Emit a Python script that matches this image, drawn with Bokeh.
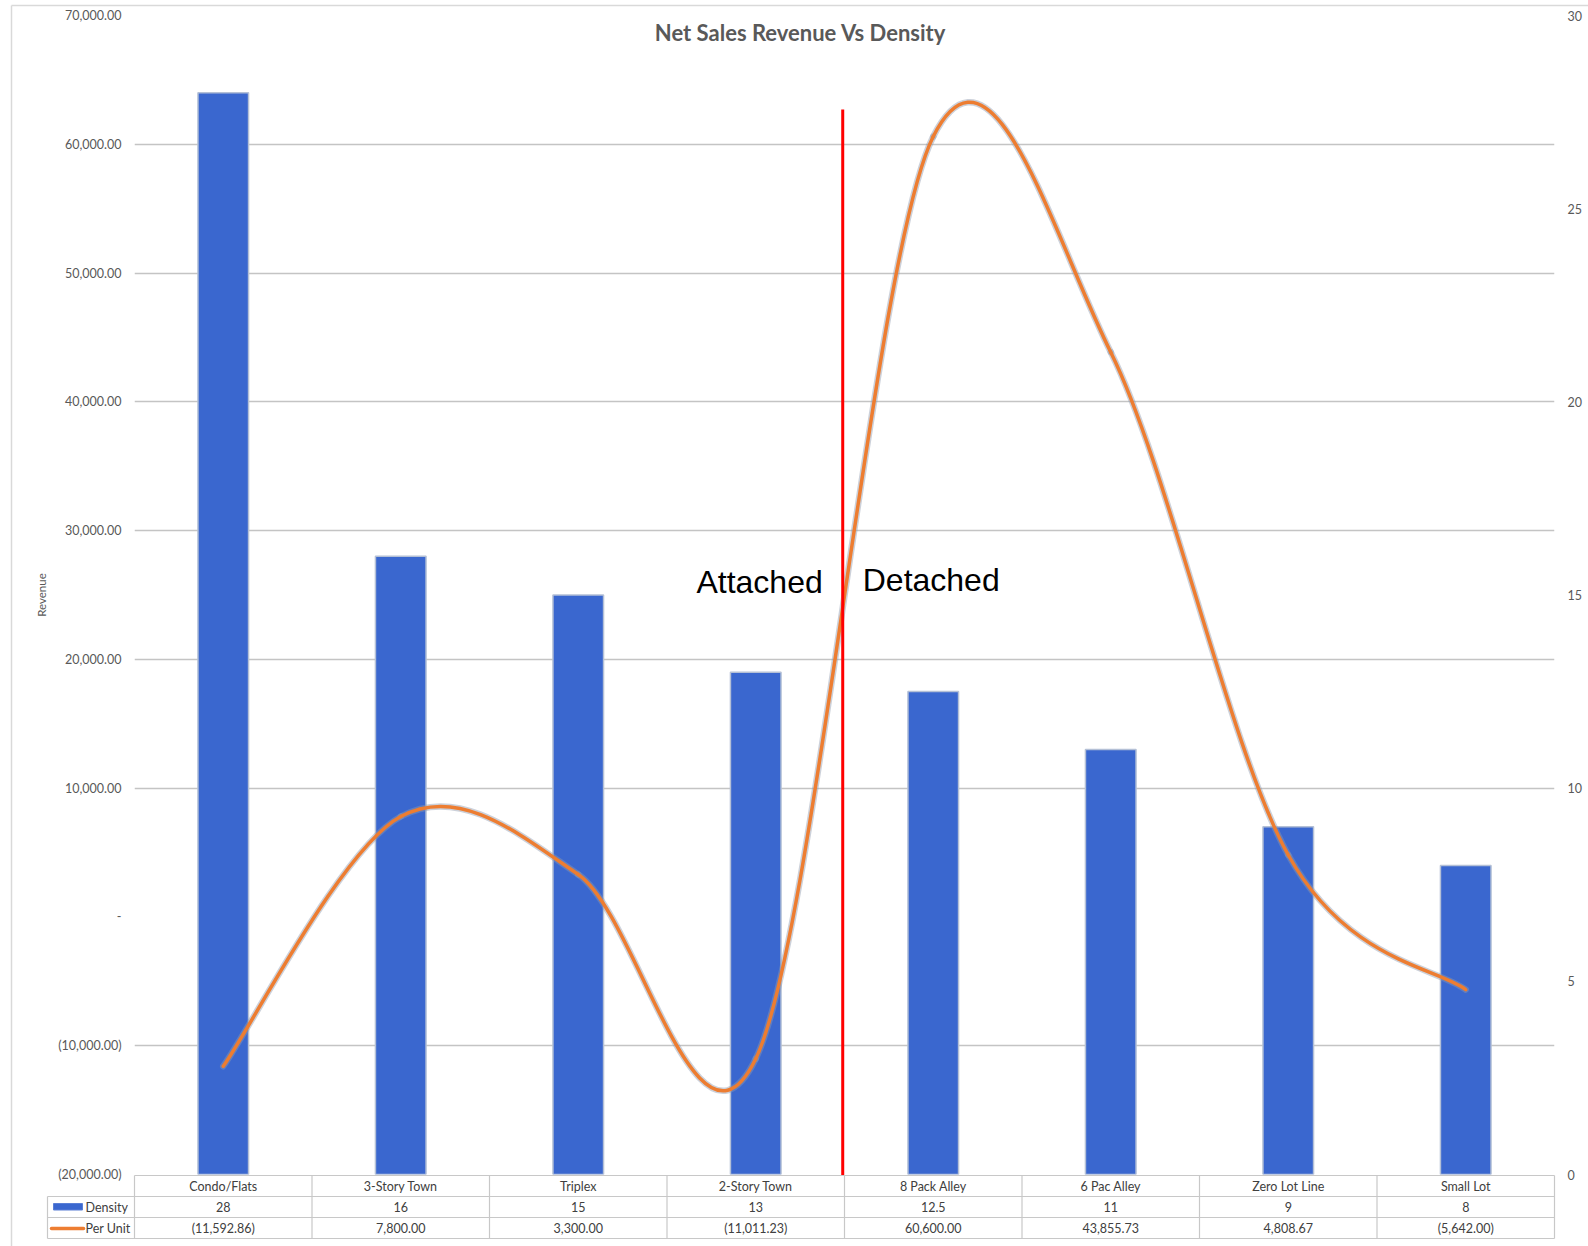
import numpy as np
from bokeh.plotting import figure
from bokeh.models import Range1d, LinearAxis, FixedTicker
from bokeh.core.properties import value
from bokeh.embed import file_html
from bokeh.resources import INLINE

# ---------------- data ----------------
categories = ["Condo/Flats", "3-Story Town", "Triplex", "2-Story Town",
              "8 Pack Alley", "6 Pac Alley", "Zero Lot Line", "Small Lot"]
density = [28, 16, 15, 13, 12.5, 11, 9, 8]
per_unit = [-11592.86, 7800.00, 3300.00, -11011.23, 60600.00, 43855.73, 4808.67, -5642.00]
revenue_ticks = [-20000, -10000, 0, 10000, 20000, 30000, 40000, 50000, 60000, 70000]
density_ticks = [0, 5, 10, 15, 20, 25, 30]
title_text = "Net Sales Revenue Vs Density"
divider_after = "2-Story Town"
left_label, right_label = "Attached", "Detached"
series_names = ["Density", "Per Unit"]


def acct(v):
    if v == 0:
        return "-"
    s = f"{abs(v):,.2f}"
    return f"({s})" if v < 0 else s


def dens_fmt(v):
    return f"{v:g}"


# ---------------- layout helpers (canvas pixels -> data) ----------------
W, H = 1588, 1246
FX0, FX1 = 134, 1554      # frame left/right (px)
FY0, FY1 = 1174, 15       # frame bottom/top (px)
XMIN, XMAX = -0.5, len(categories) - 0.5
YMIN, YMAX = revenue_ticks[0], revenue_ticks[-1]


def xd(px):
    return XMIN + (px - FX0) * (XMAX - XMIN) / (FX1 - FX0)


def yd(py):
    return YMIN + (FY0 - py) * (YMAX - YMIN) / (FY0 - FY1)


GRAY_TXT = "#595959"
FONT = "Lato"

p = figure(width=W, height=H,
           x_range=Range1d(XMIN, XMAX), y_range=Range1d(YMIN, YMAX),
           output_backend="svg", toolbar_location=None,
           x_axis_location=None, y_axis_location="left",
           min_border_left=FX0, min_border_right=W - FX1,
           min_border_top=FY1, min_border_bottom=H - FY0)
p.outline_line_color = None
p.background_fill_color = "white"
p.border_fill_color = "white"

p.extra_y_ranges = {"density": Range1d(density_ticks[0], density_ticks[-1])}
rax = LinearAxis(y_range_name="density", ticker=FixedTicker(ticks=density_ticks))
p.add_layout(rax, "right")

lax = p.left[0]
lax.ticker = FixedTicker(ticks=revenue_ticks)
lax.major_label_overrides = {t: acct(t) for t in revenue_ticks}
lax.axis_label = "Revenue"
lax.axis_label_text_font = FONT
lax.axis_label_text_font_size = "11.5px"
lax.axis_label_text_font_style = "normal"
lax.axis_label_text_color = GRAY_TXT
lax.axis_label_standoff = 7
lax.major_label_standoff = 13

for ax in (lax, rax):
    ax.axis_line_color = None
    ax.major_tick_line_color = None
    ax.minor_tick_line_color = None
    ax.major_tick_out = 0
    ax.major_tick_in = 0
    ax.major_label_text_font = FONT
    ax.major_label_text_font_size = "12.5px"
    ax.major_label_text_color = GRAY_TXT
rax.major_label_standoff = 13

p.xgrid.visible = False
p.ygrid.ticker = FixedTicker(ticks=[t for t in revenue_ticks if t not in (0, YMIN)])
p.ygrid.grid_line_color = "#C4C4C4"
p.ygrid.grid_line_width = 1.3

# ---------------- bars (density, right axis) ----------------
xs = list(range(len(categories)))
p.vbar(x=xs, top=density, bottom=0, width=0.285, y_range_name="density",
       fill_color="#3A67CF", line_color="#B4C0D6", line_width=1.5)

# ---------------- smoothed line (per unit, left axis) ----------------
P = np.column_stack([np.array(xs, dtype=float), np.array(per_unit, dtype=float)])
Pe = np.vstack([P[0], P, P[-1]])
n = len(P)
t = 1.0 / 6.0
c0 = P[:-1] + (Pe[2:n + 1] - Pe[0:n - 1]) * t
c1 = P[1:] - (Pe[3:n + 2] - Pe[1:n]) * t
bez = dict(x0=P[:-1, 0], y0=P[:-1, 1], x1=P[1:, 0], y1=P[1:, 1],
           cx0=c0[:, 0], cy0=c0[:, 1], cx1=c1[:, 0], cy1=c1[:, 1])
p.bezier(**bez, line_color="#8E98AC", line_width=6.5, line_alpha=0.45, line_cap="round")
p.bezier(**bez, line_color="#ED7D31", line_width=3.5, line_cap="round")

# ---------------- divider & annotations ----------------
xdiv = categories.index(divider_after) + 0.49
p.segment(x0=[xdiv], y0=[yd(1175)], x1=[xdiv], y1=[yd(109)],
          line_color="#FF0000", line_width=3, level="overlay")
p.text(x=[xdiv], y=[yd(581)], text=[left_label], x_offset=-20,
       text_align="right", text_baseline="alphabetic",
       text_font=value("Liberation Sans"), text_font_size="32px", text_color="black",
       level="overlay")
p.text(x=[xdiv], y=[yd(579)], text=[right_label], x_offset=20,
       text_align="left", text_baseline="alphabetic",
       text_font=value("Liberation Sans"), text_font_size="32px", text_color="black",
       level="overlay")

# title
p.text(x=[xd(800)], y=[yd(32)], text=[title_text], text_align="center",
       text_baseline="middle", text_font=value(FONT), text_font_style="bold",
       text_font_size="22px", text_color=GRAY_TXT, level="overlay")

# ---------------- data table ----------------
GRID = "#C8C8C8"
r_top, r1, r2, r_bot = 1175, 1196, 1217, 1238
leg_l = 47
p.segment(x0=[XMIN, xd(leg_l), xd(leg_l), xd(leg_l)],
          y0=[yd(r_top), yd(r1), yd(r2), yd(r_bot)],
          x1=[XMAX] * 4,
          y1=[yd(r_top), yd(r1), yd(r2), yd(r_bot)],
          line_color=GRID, line_width=1.2, level="overlay")
vx = [XMIN + k for k in range(len(categories) + 1)]
p.segment(x0=vx, y0=[yd(r_top)] * len(vx), x1=vx, y1=[yd(r_bot)] * len(vx),
          line_color=GRID, line_width=1.2, level="overlay")
p.segment(x0=[xd(leg_l)], y0=[yd(r1)], x1=[xd(leg_l)], y1=[yd(r_bot)],
          line_color=GRID, line_width=1.2, level="overlay")

TBL_TXT = "#404040"
common = dict(text_align="center", text_baseline="middle", text_font=value(FONT),
              text_font_size="12.5px", text_color=TBL_TXT, level="overlay")
p.text(x=xs, y=[yd((r_top + r1) / 2)] * len(xs), text=categories, **common)
p.text(x=xs, y=[yd((r1 + r2) / 2)] * len(xs), text=[dens_fmt(v) for v in density], **common)
p.text(x=xs, y=[yd((r2 + r_bot) / 2)] * len(xs), text=[acct(v) for v in per_unit], **common)

# legend keys
p.quad(left=[xd(53)], right=[xd(82)], top=[yd(1203)], bottom=[yd(1209.5)],
       fill_color="#3A67CF", line_color="#5A7FD6", line_width=1, level="overlay")
p.segment(x0=[xd(51)], y0=[yd(1228)], x1=[xd(83)], y1=[yd(1228)],
          line_color="#ED7D31", line_width=3.5, line_cap="round", level="overlay")
leg_common = dict(text_align="left", text_baseline="middle", text_font=value(FONT),
                  text_font_size="12.5px", text_color=TBL_TXT, level="overlay")
p.text(x=[xd(85), xd(85)], y=[yd((r1 + r2) / 2), yd((r2 + r_bot) / 2)],
       text=series_names, **leg_common)

# outer chart border (light)
p.segment(x0=[xd(11), xd(11)], y0=[yd(5), yd(5)], x1=[xd(11), xd(W)], y1=[yd(H), yd(5)],
          line_color="#D9D9D9", line_width=1.5, level="overlay")

open("out.html", "w").write(file_html(p, INLINE))
